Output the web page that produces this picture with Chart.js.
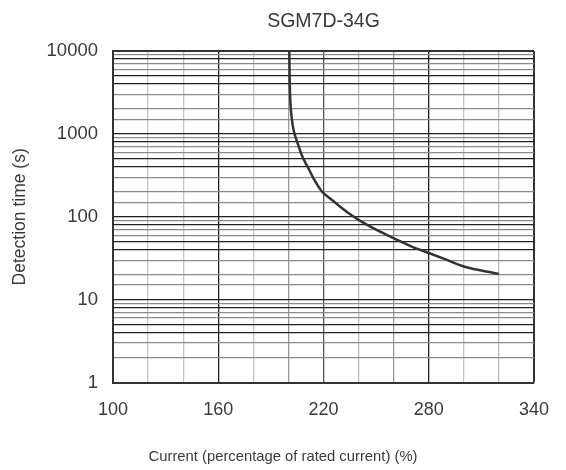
<!DOCTYPE html>
<html>
<head>
<meta charset="utf-8">
<script src="https://cdn.jsdelivr.net/npm/chart.js@4/dist/chart.umd.min.js"></script>
<style>
  body { margin: 0; background: #fff; }
</style>
</head>
<body>
<canvas id="overload" width="566" height="470"></canvas>
<script>
// values
var currentPct = [200.5, 200.7, 201, 202, 203, 205, 208, 211, 214, 219.3, 224, 229, 235, 240, 250, 261, 270, 280, 290, 300, 310, 320];
var detectionTime = [10000, 5000, 2800, 1500, 1100, 800, 530, 400, 300, 200, 165, 135, 108, 92, 70, 54, 44, 36.6, 30.4, 25.2, 22.5, 20.5];
var xTickLabels = [100, 160, 220, 280, 340];
var yTickLabels = [1, 10, 100, 1000, 10000];

var points = [];
for (var i = 0; i < currentPct.length; i++) {
    points.push({ x: currentPct[i], y: detectionTime[i] });
}

var textColor = '#3a3a3a';
var fontName = '"Liberation Sans", Arial, sans-serif';

// vertical grid shades as in the original sheet
var xGridColor = {
    100: '#333', 120: '#c4c4c4', 140: '#c4c4c4', 160: '#222', 180: '#c4c4c4', 200: '#999',
    220: '#555', 240: '#bdbdbd', 260: '#999', 280: '#222', 300: '#c4c4c4', 320: '#bdbdbd', 340: '#333'
};
// horizontal grid shade per mantissa
var yGridColor = { 1: '#222', 2: '#8a8a8a', 3: '#8a8a8a', 4: '#222', 5: '#222', 6: '#8a8a8a', 7: '#8a8a8a', 8: '#222', 9: '#8a8a8a' };

var ctx = document.getElementById('overload').getContext('2d');
var chart = new Chart(ctx, {
    type: 'line',
    data: {
        datasets: [{
            label: 'SGM7D-34G',
            data: points,
            borderColor: '#333',
            borderWidth: 2.5,
            pointRadius: 0,
            fill: false,
            cubicInterpolationMode: 'monotone'
        }]
    },
    options: {
        responsive: false,
        animation: false,
        plugins: {
            legend: { display: false },
            tooltip: { enabled: false },
            // x axis caption is centred on the whole page in the original
            title: {
                display: true,
                position: 'bottom',
                text: 'Current (percentage of rated current) (%)',
                color: textColor,
                font: { family: fontName, size: 14.8, weight: 'normal' },
                padding: { top: 0, bottom: 4.3 }
            }
        },
        scales: {
            // top axis only carries the chart title so it centres over the plot
            top: {
                type: 'linear',
                position: 'top',
                min: 100,
                max: 340,
                afterFit: function(scale) { scale.height = 51; },
                border: { display: false },
                grid: { display: false, drawTicks: false },
                ticks: { display: false },
                title: {
                    display: true,
                    text: 'SGM7D-34G',
                    color: textColor,
                    font: { family: fontName, size: 19.5 },
                    padding: { top: 10, bottom: 0 }
                }
            },
            x: {
                type: 'linear',
                position: 'bottom',
                min: 100,
                max: 340,
                afterFit: function(scale) { scale.height = 65.3; },
                border: { color: '#333', width: 2 },
                grid: {
                    drawTicks: false,
                    color: function(c) { return xGridColor[c.tick.value] || '#bbb'; },
                    lineWidth: function(c) {
                        var v = c.tick.value;
                        return (v === 340) ? 2 : 1.3;
                    }
                },
                ticks: {
                    stepSize: 20,
                    autoSkip: false,
                    maxRotation: 0,
                    padding: 17,
                    color: textColor,
                    font: { family: fontName, size: 18 },
                    callback: function(v) { return xTickLabels.indexOf(v) >= 0 ? String(v) : ''; }
                }
            },
            y: {
                type: 'logarithmic',
                min: 1,
                max: 10000,
                afterFit: function(scale) { scale.width = 113; },
                border: { color: '#333', width: 2 },
                grid: {
                    drawTicks: false,
                    color: function(c) {
                        var v = c.tick.value;
                        if (v >= 10000) return '#333';
                        var m = Math.round(v / Math.pow(10, Math.floor(Math.log10(v) + 1e-9)));
                        return yGridColor[m] || '#8a8a8a';
                    },
                    lineWidth: function(c) { return c.tick.value >= 10000 ? 2 : 1.3; }
                },
                ticks: {
                    autoSkip: false,
                    padding: 15,
                    color: textColor,
                    font: { family: fontName, size: 18.5 },
                    callback: function(v) { return yTickLabels.indexOf(v) >= 0 ? String(v) : ''; }
                },
                title: {
                    display: true,
                    text: 'Detection time (s)',
                    color: textColor,
                    font: { family: fontName, size: 17.5 },
                    padding: { top: 10, bottom: 0 }
                }
            },
            // empty right axis just keeps the right margin
            yRight: {
                type: 'linear',
                position: 'right',
                afterFit: function(scale) { scale.width = 30; },
                border: { display: false },
                grid: { display: false, drawTicks: false },
                ticks: { display: false }
            }
        }
    }
});
</script>
</body>
</html>
